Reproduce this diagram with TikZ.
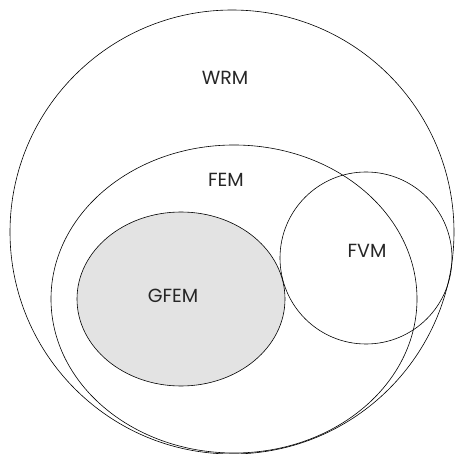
\documentclass[tikz,border=0pt]{standalone}
\usepackage{fontspec}
\setmainfont{Poppins}
\begin{document}
\begin{tikzpicture}[x=1pt,y=-1pt,
  setline/.style={draw=black,line width=0.6pt},
  lbl/.style={font=\fontsize{19}{22}\selectfont,text=black!85}]
\useasboundingbox (0,0) rectangle (455,454);
\draw[setline] (232,232) ellipse [x radius=222,y radius=222];
\draw[setline] (234,299) ellipse [x radius=183,y radius=154];
\draw[setline,fill=black!11] (181,299) ellipse [x radius=104,y radius=87];
\draw[setline] (366,258) circle [radius=86];
\node[lbl] (wrm) at (225,78) {WRM};
\node[lbl] (fem) at (226,180) {FEM};
\node[lbl] (fvm) at (367,251) {FVM};
\node[lbl] (gfem) at (173,296) {GFEM};
\end{tikzpicture}
\end{document}
